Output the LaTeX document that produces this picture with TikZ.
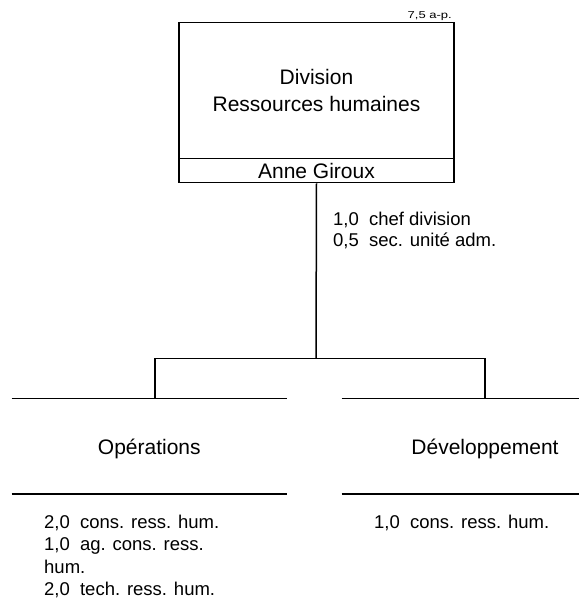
\documentclass[tikz,border=0pt]{standalone}
\usepackage{fontspec}
\setmainfont{Liberation Sans}
\begin{document}
\begin{tikzpicture}[x=1pt,y=-1pt,
  line/.style={line width=1.5pt, black},
  unitbox/.style={draw, line width=1.5pt, inner sep=0pt, align=center,
    font=\fontsize{21}{26.7}\selectfont},
  bigtext/.style={inner sep=0pt, font=\fontsize{21}{26.7}\selectfont},
  smalltext/.style={inner sep=0pt, anchor=base west, font=\fontsize{18.5}{22.5}\selectfont},
  tinytext/.style={inner sep=0pt, anchor=base east, font=\fontsize{10}{12}\selectfont}]
\useasboundingbox (0,0) rectangle (579,598);

% Division box and its head
\node[unitbox, minimum width=275pt, minimum height=136pt] (head) at (316.5,90.7)
  {Division\\Ressources humaines};
\node[unitbox, minimum width=275pt, minimum height=24pt] (holder) at (316.5,170.7)
  {Anne Giroux};
\node[tinytext, xscale=1.3] (pa) at (452,18.5) {7,5 a-p.};

% Staff of the division
\node[smalltext] (staff1) at (333,225) {1,0\hspace{0.55em}chef division};
\node[smalltext] (staff2) at (333,246.5) {0,5\hspace{0.55em}sec. unité adm.};

% Branching bus
\coordinate (bus) at (316,358.3);
\coordinate (busL) at (155,358.3);
\coordinate (busR) at (485,358.3);
\coordinate (dropL) at (155,398.7);
\coordinate (dropR) at (485,398.7);

% Unit bars
\coordinate (opsTL) at (11.7,398.7);
\coordinate (opsTR) at (286.7,398.7);
\coordinate (opsBL) at (11.7,494);
\coordinate (opsBR) at (286.7,494);
\coordinate (devTL) at (341.7,398.7);
\coordinate (devTR) at (579,398.7);
\coordinate (devBL) at (341.7,494);
\coordinate (devBR) at (579,494);

\node[bigtext, anchor=base] (ops) at (149.3,454) {Opérations};
\node[bigtext, anchor=base] (dev) at (485,454) {Développement};

% Connectors
\draw[line] (holder.south) -- (bus);
\draw[line] (busL) -- (busR);
\draw[line] (busL) -- (dropL);
\draw[line] (busR) -- (dropR);
\draw[line] (opsTL) -- (opsTR);
\draw[line] (opsBL) -- (opsBR);
\draw[line] (devTL) -- (devTR);
\draw[line] (devBL) -- (devBR);

% Staff of the units
\node[smalltext] (o1) at (44,528) {2,0\hspace{0.55em}cons. ress. hum.};
\node[smalltext] (o2) at (44,550.5) {1,0\hspace{0.55em}ag. cons. ress.};
\node[smalltext] (o3) at (44,573) {hum.};
\node[smalltext] (o4) at (44,595.5) {2,0\hspace{0.55em}tech. ress. hum.};
\node[smalltext] (d1) at (374,528) {1,0\hspace{0.55em}cons. ress. hum.};
\end{tikzpicture}
\end{document}
